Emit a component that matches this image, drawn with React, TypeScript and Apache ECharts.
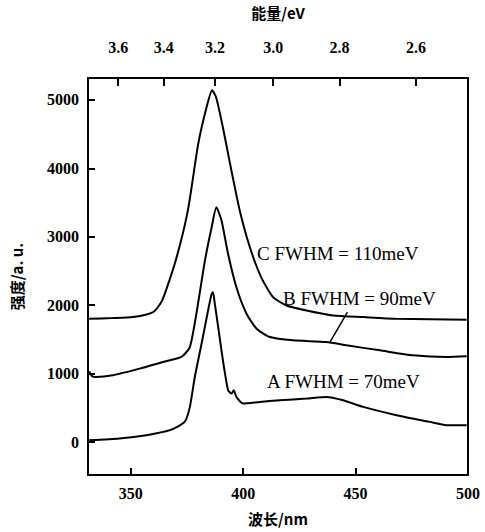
import React, { useEffect, useRef } from "react";
import * as echarts from "echarts";

// wavelength (nm), intensity (a.u.)
const curveA: [number, number][] = [
  [331.5, 29], [345, 54], [357, 102], [367.4, 175], [374, 296], [376.3, 515],
  [378.5, 952], [381.5, 1438], [384.4, 1924], [386, 2167], [386.6, 2191],
  [387.4, 2021], [388.9, 1681], [391, 1195], [393.3, 758], [394.8, 710],
  [395.8, 758], [397, 661], [400, 564], [407.4, 588], [416.3, 612],
  [428.2, 637], [437, 661], [444.5, 612], [453.4, 515], [468.2, 394],
  [483, 296], [490.5, 248], [499.4, 248],
];
const curveB: [number, number][] = [
  [331.5, 1030], [333, 960], [334.5, 952], [342, 977], [354, 1074], [364.4, 1171],
  [372.5, 1244], [376.3, 1389], [379.2, 1876], [383, 2653], [386, 3139],
  [388.1, 3430], [390.4, 3236], [393.3, 2750], [397, 2264], [401.5, 1876],
  [406, 1657], [411.9, 1535], [422.2, 1487], [437, 1462], [446, 1414],
  [460.8, 1341], [475.6, 1268], [490.5, 1244], [499.4, 1254],
];
const curveC: [number, number][] = [
  [331.5, 1803], [342, 1812], [351, 1827], [360, 1900], [364, 2070],
  [370, 2653], [375.4, 3382], [380, 4354], [383.7, 4888], [386.2, 5141],
  [388, 5034], [391, 4596], [394.8, 3965], [398.5, 3382], [403, 2847],
  [408, 2410], [413.3, 2118], [419.3, 1997], [428.2, 1924], [440, 1851],
  [453.4, 1827], [468, 1803], [499.4, 1789],
];
const wavelengthTicks = [350, 400, 450];
const wavelengthLabels = [350, 400, 450, 500];
const energyTicks = [3.6, 3.4, 3.2, 3.0, 2.8, 2.6];
const intensityTicks = [0, 1000, 2000, 3000, 4000, 5000];
const labelA = "A FWHM = 70meV";
const labelB = "B FWHM = 90meV";
const labelC = "C FWHM = 110meV";
const leaderB: [number, number][] = [[446.4, 1900], [438.6, 1462]];

const X_MIN = 331, X_MAX = 500, Y_MIN = -480, Y_MAX = 5320;
const serif = "Liberation Serif";
const cjk = "Noto Sans CJK SC";

export default function App() {
  const ref = useRef<HTMLDivElement>(null);
  useEffect(() => {
    if (!ref.current) return;
    const chart = echarts.init(ref.current, undefined, { renderer: "svg" });
    const energyPos = energyTicks.map((e) => 1240 / e);
    const pxX = (X_MAX - X_MIN) / 380;
    const pxY = (Y_MAX - Y_MIN) / 398;
    const tickSegs: any[] = [
      ...intensityTicks.map((v) => [{ coord: [X_MIN, v] }, { coord: [X_MIN + 7 * pxX, v] }]),
      ...wavelengthTicks.map((w) => [{ coord: [w, Y_MIN] }, { coord: [w, Y_MIN + 7 * pxY] }]),
      ...energyPos.map((w) => [{ coord: [w, Y_MAX] }, { coord: [w, Y_MAX - 8 * pxY] }]),
    ];
    const lineSeries = (name: string, data: [number, number][]) => ({
      name,
      type: "line",
      data,
      smooth: 0.2,
      showSymbol: false,
      symbol: "none",
      lineStyle: { color: "#000", width: 2 },
      xAxisIndex: 0,
      yAxisIndex: 0,
    });
    const tickLabel = { color: "#000", fontFamily: serif, fontSize: 16, fontWeight: "bold" };
    const axisName = { fontFamily: cjk, fontWeight: "bold", fontSize: 15, color: "#000" };
    const axLine = () => ({ show: true, onZero: false, lineStyle: { color: "#000", width: 2 } });
    const tick = (vals: number[], len: number) => ({
      show: true, inside: true, length: len, customValues: vals,
      lineStyle: { color: "#000", width: 2 },
    });
    chart.setOption({
      animation: false,
      grid: { left: 88, right: 17, top: 77, bottom: 57 },
      xAxis: [
        {
          type: "value", min: X_MIN, max: X_MAX, position: "bottom",
          name: "波长/nm", nameLocation: "middle", nameGap: 36, nameTextStyle: axisName,
          axisLine: axLine(),
          axisTick: tick(wavelengthTicks, 7),
          axisLabel: { ...tickLabel, customValues: wavelengthLabels, margin: 10, showMaxLabel: true, formatter: (v: number) => String(v) },
          splitLine: { show: false },
        },
        {
          type: "value", min: X_MIN, max: X_MAX, position: "top",
          name: "能量/eV", nameLocation: "middle", nameGap: 58, nameTextStyle: axisName,
          axisLine: axLine(),
          axisTick: tick(energyPos, 8),
          axisLabel: {
            ...tickLabel, customValues: energyPos, margin: 23,
            formatter: (v: number) => (1240 / v).toFixed(1),
          },
          splitLine: { show: false },
        },
      ],
      yAxis: [
        {
          type: "value", min: Y_MIN, max: Y_MAX, position: "left",
          name: "强度/a. u.", nameLocation: "middle", nameGap: 64, nameTextStyle: axisName,
          axisLine: axLine(),
          axisTick: tick(intensityTicks, 7),
          axisLabel: { ...tickLabel, customValues: intensityTicks, margin: 9, formatter: (v: number) => String(v) },
          splitLine: { show: false },
        },
        {
          type: "value", min: Y_MIN, max: Y_MAX, position: "right",
          axisLine: axLine(),
          axisTick: { show: false },
          axisLabel: { show: false },
          splitLine: { show: false },
        },
      ],
      series: [
        lineSeries("A", curveA),
        {
          ...lineSeries("B", curveB),
          markLine: {
            silent: true, symbol: "none",
            lineStyle: { color: "#000", width: 1.5, type: "solid" },
            label: { show: false },
            data: [[{ coord: leaderB[0] }, { coord: leaderB[1] }]],
          },
        },
        {
          ...lineSeries("C", curveC),
          markLine: {
            silent: true, symbol: "none", clip: false,
            lineStyle: { color: "#000", width: 2, type: "solid" },
            label: { show: false },
            data: tickSegs,
          },
        },
      ],
      graphic: [
        { type: "text", left: 257, top: 244, style: { text: labelC, font: `19px "${serif}"`, fill: "#000" } },
        { type: "text", left: 283, top: 289, style: { text: labelB, font: `19px "${serif}"`, fill: "#000" } },
        { type: "text", left: 267, top: 372, style: { text: labelA, font: `19px "${serif}"`, fill: "#000" } },
      ],
    });
    return () => chart.dispose();
  }, []);
  return <div ref={ref} style={{ width: 485, height: 532, position: "absolute", left: 0, top: 0, background: "#fff" }} />;
}
